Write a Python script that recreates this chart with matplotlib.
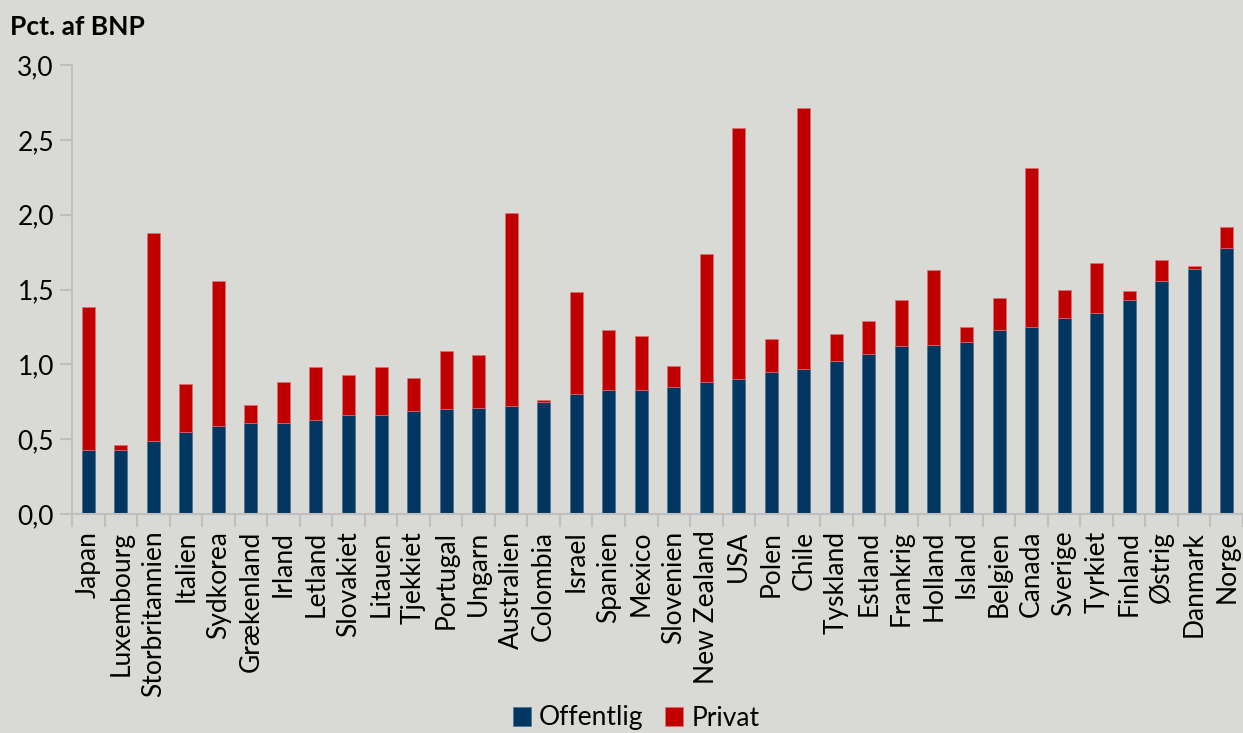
import matplotlib
matplotlib.use("Agg")
import matplotlib.pyplot as plt
from matplotlib.ticker import FuncFormatter, FixedLocator
import numpy as np

countries = ["Japan", "Luxembourg", "Storbritannien", "Italien", "Sydkorea", "Grækenland",
             "Irland", "Letland", "Slovakiet", "Litauen", "Tjekkiet", "Portugal", "Ungarn",
             "Australien", "Colombia", "Israel", "Spanien", "Mexico", "Slovenien",
             "New Zealand", "USA", "Polen", "Chile", "Tyskland", "Estland", "Frankrig",
             "Holland", "Island", "Belgien", "Canada", "Sverige", "Tyrkiet", "Finland",
             "Østrig", "Danmark", "Norge"]

offentlig = [0.43, 0.43, 0.49, 0.55, 0.59, 0.61, 0.61, 0.63, 0.66, 0.66, 0.69, 0.70, 0.71,
             0.72, 0.75, 0.80, 0.83, 0.83, 0.85, 0.88, 0.90, 0.95, 0.97, 1.02, 1.07, 1.12,
             1.13, 1.15, 1.23, 1.25, 1.31, 1.34, 1.43, 1.56, 1.64, 1.78]

total = [1.38, 0.46, 1.88, 0.87, 1.56, 0.73, 0.88, 0.98, 0.93, 0.98, 0.91, 1.09, 1.06,
         2.01, 0.76, 1.48, 1.23, 1.19, 0.99, 1.74, 2.58, 1.17, 2.71, 1.20, 1.29, 1.43,
         1.63, 1.25, 1.44, 2.31, 1.50, 1.68, 1.49, 1.70, 1.66, 1.92]

privat = [round(t - o, 2) for t, o in zip(total, offentlig)]

yticks = [0.0, 0.5, 1.0, 1.5, 2.0, 2.5, 3.0]

BG = "#d9d9d5"
BLUE = "#003660"
RED = "#c00000"
AXIS = "#bfbfbf"
FS = 19

plt.rcParams["font.family"] = ["Lato", "DejaVu Sans"]

fig = plt.figure(figsize=(12.43, 7.33), dpi=100, facecolor=BG)
ax = fig.add_axes([72 / 1243, 219 / 733, 1 - 72 / 1243, 449 / 733], facecolor=BG)

x = np.arange(len(countries))
ax.bar(x, offentlig, width=0.4, color=BLUE, edgecolor="#4d6f8f", linewidth=0.5,
       label="Offentlig", zorder=2)
ax.bar(x, privat, width=0.4, bottom=offentlig, color=RED, edgecolor="#e07070",
       linewidth=0.5, label="Privat", zorder=2)

ax.set_xlim(-0.5, len(countries) - 0.5)
ax.set_ylim(0, 3.0)

ax.set_yticks(yticks)
ax.yaxis.set_major_formatter(FuncFormatter(lambda v, p: f"{v:.1f}".replace(".", ",")))

# category labels sit at bar centres, tick marks fall between categories
ax.set_xticks(x)
ax.set_xticklabels(countries, rotation=90, fontsize=FS)
ax.tick_params(axis="x", which="major", length=0, pad=12)
ax.xaxis.set_minor_locator(FixedLocator(np.arange(-0.5, len(countries), 1.0)))
ax.tick_params(axis="x", which="minor", length=9, width=1.5, color=AXIS)
ax.tick_params(axis="y", length=9, width=1.5, color=AXIS, labelsize=FS, pad=4)

for side in ["top", "right"]:
    ax.spines[side].set_visible(False)
for side in ["left", "bottom"]:
    ax.spines[side].set_color(AXIS)
    ax.spines[side].set_linewidth(1.5)

fig.text(10 / 1243, 1 - 27 / 733, "Pct. af BNP", fontsize=FS, fontweight="bold",
         va="center", ha="left")

fig.legend(loc="center", bbox_to_anchor=(636 / 1243, 1 - 718 / 733), ncol=2, frameon=False,
           fontsize=FS, handlelength=0.7, handleheight=0.7, handletextpad=0.3,
           columnspacing=0.8)

fig.savefig("out.png", dpi=100, facecolor=BG)
